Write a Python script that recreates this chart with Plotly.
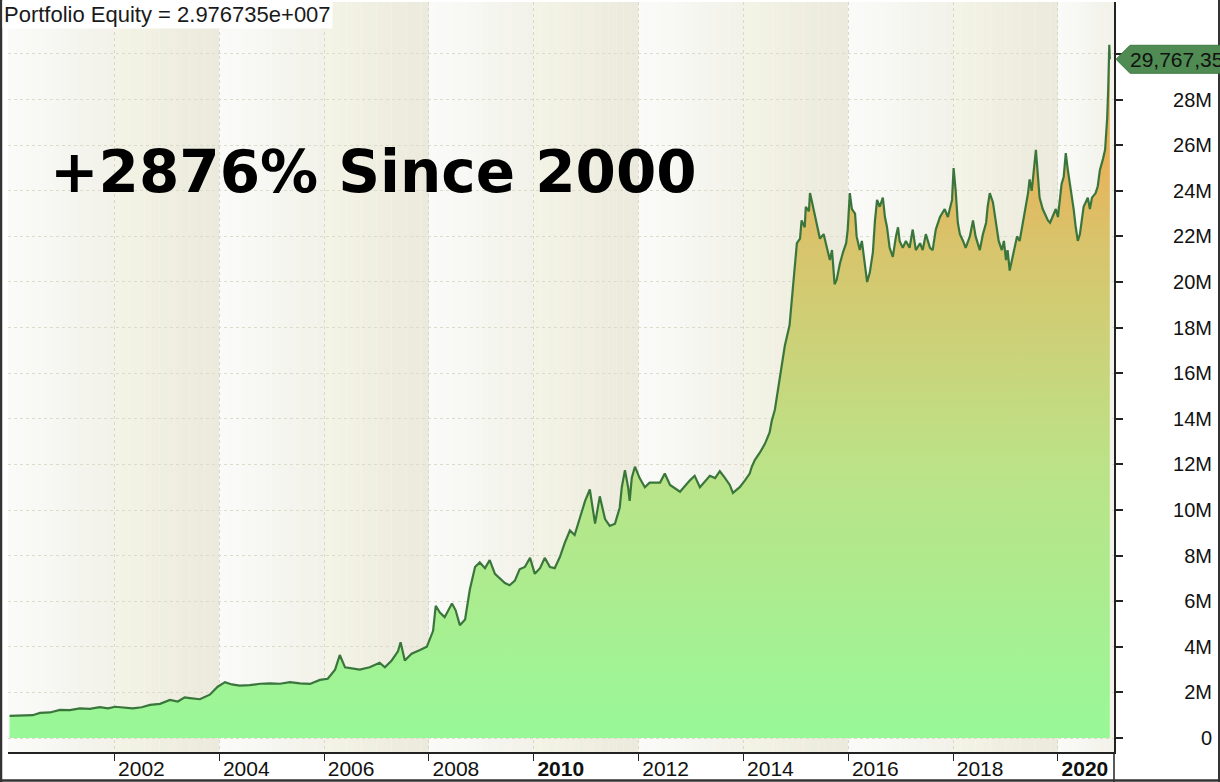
import plotly.graph_objects as go

# ---------------- data ----------------
years = [
    2000.00, 2000.20, 2000.44, 2000.58, 2000.77, 2000.96, 2001.15, 2001.34, 2001.53, 2001.72,
    2001.88, 2002.01, 2002.20, 2002.35, 2002.52, 2002.68, 2002.87, 2003.06, 2003.21, 2003.34,
    2003.44, 2003.63, 2003.82, 2003.97, 2004.11, 2004.24, 2004.39, 2004.58, 2004.78, 2004.97,
    2005.16, 2005.35, 2005.54, 2005.73, 2005.92, 2006.07, 2006.21, 2006.30, 2006.40, 2006.53,
    2006.68, 2006.87, 2007.06, 2007.16, 2007.29, 2007.41, 2007.46, 2007.54, 2007.67, 2007.83,
    2007.96, 2008.08, 2008.13, 2008.21, 2008.30, 2008.44, 2008.51, 2008.59, 2008.69, 2008.78,
    2008.88, 2008.97, 2009.07, 2009.16, 2009.26, 2009.45, 2009.54, 2009.64, 2009.73, 2009.83,
    2009.93, 2010.02, 2010.12, 2010.21, 2010.31, 2010.40, 2010.50, 2010.59, 2010.69, 2010.78,
    2010.88, 2010.98, 2011.07, 2011.17, 2011.26, 2011.36, 2011.45, 2011.55, 2011.64, 2011.68,
    2011.74, 2011.80, 2011.83, 2011.87, 2011.93, 2012.02, 2012.12, 2012.21, 2012.41, 2012.50,
    2012.60, 2012.79, 2012.98, 2013.07, 2013.17, 2013.36, 2013.46, 2013.55, 2013.65, 2013.74,
    2013.80, 2013.93, 2014.03, 2014.12, 2014.16, 2014.22, 2014.31, 2014.41, 2014.50, 2014.54,
    2014.60, 2014.69, 2014.79, 2014.88, 2014.94, 2014.98, 2015.02, 2015.08, 2015.11, 2015.17,
    2015.19, 2015.25, 2015.27, 2015.31, 2015.36, 2015.42, 2015.46, 2015.53, 2015.59, 2015.65,
    2015.69, 2015.74, 2015.78, 2015.84, 2015.90, 2015.96, 2015.99, 2016.03, 2016.07, 2016.13,
    2016.16, 2016.22, 2016.26, 2016.32, 2016.36, 2016.41, 2016.47, 2016.51, 2016.55, 2016.60,
    2016.66, 2016.70, 2016.74, 2016.79, 2016.85, 2016.91, 2016.95, 2016.98, 2017.04, 2017.10,
    2017.17, 2017.23, 2017.29, 2017.37, 2017.42, 2017.48, 2017.56, 2017.61, 2017.67, 2017.75,
    2017.84, 2017.90, 2017.98, 2018.01, 2018.05, 2018.09, 2018.13, 2018.19, 2018.24, 2018.32,
    2018.38, 2018.43, 2018.51, 2018.57, 2018.63, 2018.66, 2018.70, 2018.76, 2018.82, 2018.87,
    2018.93, 2018.97, 2019.01, 2019.04, 2019.08, 2019.12, 2019.16, 2019.22, 2019.27, 2019.33,
    2019.39, 2019.43, 2019.46, 2019.50, 2019.54, 2019.58, 2019.62, 2019.65, 2019.71, 2019.77,
    2019.81, 2019.85, 2019.90, 2019.96, 2020.00, 2020.04, 2020.07, 2020.11, 2020.15, 2020.19,
    2020.23, 2020.27, 2020.30, 2020.34, 2020.38, 2020.42, 2020.46, 2020.49, 2020.57, 2020.61,
    2020.65, 2020.72, 2020.76, 2020.80, 2020.86, 2020.90, 2020.92, 2020.94, 2020.96, 2020.97,
    2020.98, 2020.99,
]

equity_m = [
    0.97, 0.98, 1.00, 1.10, 1.12, 1.23, 1.22, 1.30, 1.28, 1.35,
    1.30, 1.37, 1.33, 1.30, 1.35, 1.45, 1.50, 1.67, 1.60, 1.78,
    1.75, 1.70, 1.90, 2.25, 2.45, 2.35, 2.30, 2.32, 2.38, 2.40,
    2.38, 2.45, 2.40, 2.37, 2.55, 2.60, 3.00, 3.64, 3.10, 3.05,
    3.00, 3.10, 3.30, 3.10, 3.40, 3.80, 4.20, 3.40, 3.70, 3.86,
    4.00, 4.70, 5.80, 5.50, 5.30, 5.90, 5.60, 4.95, 5.20, 6.50,
    7.50, 7.70, 7.45, 7.80, 7.20, 6.80, 6.70, 6.90, 7.40, 7.50,
    7.90, 7.20, 7.45, 7.90, 7.50, 7.45, 7.95, 8.55, 9.10, 8.90,
    9.70, 10.40, 10.90, 9.40, 10.60, 9.60, 9.30, 9.40, 10.10, 11.00,
    11.75, 11.00, 10.40, 11.40, 11.90, 11.40, 11.00, 11.20, 11.20, 11.60,
    11.10, 10.80, 11.30, 11.50, 11.00, 11.50, 11.40, 11.70, 11.40, 11.10,
    10.75, 11.00, 11.30, 11.60, 11.90, 12.20, 12.50, 12.90, 13.40, 13.90,
    14.40, 15.70, 17.20, 18.10, 19.60, 20.80, 21.70, 21.90, 22.70, 22.40,
    23.30, 23.10, 23.90, 23.50, 23.00, 22.30, 21.90, 22.10, 21.50, 20.96,
    21.40, 19.90, 20.10, 20.80, 21.30, 21.70, 22.30, 23.90, 23.20, 23.00,
    22.00, 21.40, 21.80, 20.80, 20.00, 20.40, 21.30, 22.70, 23.60, 23.30,
    23.70, 22.85, 22.40, 21.50, 21.10, 22.00, 22.40, 21.80, 21.50, 21.80,
    21.50, 22.30, 21.40, 21.70, 21.40, 22.10, 21.50, 21.40, 22.30, 22.85,
    23.20, 22.85, 23.60, 25.00, 24.00, 22.60, 22.10, 21.80, 21.50, 22.00,
    22.70, 22.00, 21.40, 22.10, 22.60, 23.30, 23.90, 23.50, 22.60, 21.80,
    21.40, 21.80, 20.96, 21.40, 20.50, 20.96, 21.40, 22.00, 21.80, 22.60,
    23.30, 23.90, 24.50, 24.00, 24.90, 25.80, 24.60, 23.70, 23.20, 22.85,
    22.70, 22.60, 22.85, 23.20, 22.85, 23.60, 24.30, 24.60, 25.65, 24.90,
    24.30, 23.70, 23.20, 22.40, 21.80, 22.10, 22.85, 23.30, 23.70, 23.20,
    23.70, 23.90, 24.20, 24.90, 25.40, 25.80, 26.50, 27.20, 28.50, 29.90,
    30.40, 29.767351,
]

tick_years = [2002, 2004, 2006, 2008, 2010, 2012, 2014, 2016, 2018, 2020]
tick_text = ["2002", "2004", "2006", "2008", "<b>2010</b>", "2012", "2014", "2016", "2018", "<b>2020</b>"]
y_ticks_m = [0, 2, 4, 6, 8, 10, 12, 14, 16, 18, 20, 22, 24, 26, 28, 30]
y_tick_text = ["0", "2M", "4M", "6M", "8M", "10M", "12M", "14M", "16M", "18M",
               "20M", "22M", "24M", "26M", "28M", "30M"]

title_text = "Portfolio Equity = 2.976735e+007"
headline = "+2876% Since 2000"
last_label = "29,767,351"

# ---------------- figure ----------------
equity = [v * 1e6 for v in equity_m]
y_tickvals = [v * 1e6 for v in y_ticks_m]

X_RANGE = [1999.97, 2021.07]
Y_RANGE = [-0.614e6, 32.28e6]

W, H = 1220, 782
ML, MR, MT, MB = 8, 8, 2, 30
PW, PH = W - ML - MR, H - MT - MB
PLOT_RIGHT_PX = 1114


def px_x(px):
    return (px - ML) / PW


def px_y(py):
    return 1 - (py - MT) / PH


def data_to_paper_y(v):
    return (v - Y_RANGE[0]) / (Y_RANGE[1] - Y_RANGE[0])


x_dom_right = px_x(PLOT_RIGHT_PX)

fig = go.Figure()

fig.add_trace(go.Scatter(
    x=years, y=equity,
    mode="lines",
    line=dict(color="#3A763C", width=2.2),
    fill="tozeroy",
    fillgradient=dict(
        type="vertical",
        start=0, stop=30e6,
        colorscale=[
            [0.0, "#98F898"],
            [0.40, "#BCE287"],
            [0.72, "#D8C46C"],
            [0.85, "#E8B25A"],
            [1.0, "#F0A84A"],
        ],
    ),
    hoverinfo="skip",
    showlegend=False,
))

# tiny invisible trace so the label axis (y2) is drawn
fig.add_trace(go.Scatter(
    x=[years[0]], y=[equity[0]], yaxis="y2", mode="markers",
    marker=dict(opacity=0), hoverinfo="skip", showlegend=False,
))

shapes = []


def hex_to_rgb(h):
    h = h.lstrip("#")
    return tuple(int(h[i:i + 2], 16) for i in (0, 2, 4))


# alternating two-year background bands with a horizontal gradient
light = (hex_to_rgb("#FAFAF8"), hex_to_rgb("#F2F2EA"))
dark = (hex_to_rgb("#F3F3E6"), hex_to_rgb("#EBEADC"))
N_STRIPS = 14
for k, y0 in enumerate(range(2000, 2022, 2)):
    c0, c1 = light if k % 2 == 0 else dark
    a = X_RANGE[0] if k == 0 else y0
    b = min(y0 + 2, X_RANGE[1])
    for s in range(N_STRIPS):
        t = s / (N_STRIPS - 1)
        col = tuple(round(c0[i] + (c1[i] - c0[i]) * t) for i in range(3))
        xa = a + (b - a) * s / N_STRIPS
        xb = a + (b - a) * (s + 1) / N_STRIPS
        shapes.append(dict(
            type="rect", xref="x", yref="paper",
            x0=xa, x1=xb + 0.003, y0=0, y1=1,
            fillcolor="rgb(%d,%d,%d)" % col, line=dict(width=0), layer="below",
        ))

# y-axis line continued down through the date strip
shapes.append(dict(type="line", xref="paper", yref="paper",
                   x0=x_dom_right, x1=x_dom_right, y0=0, y1=px_y(H + 2),
                   line=dict(color="#222222", width=1.5)))
# outer frame (left, bottom, right)
shapes.append(dict(type="line", xref="paper", yref="paper",
                   x0=px_x(1), x1=px_x(1), y0=px_y(0), y1=px_y(H),
                   line=dict(color="#333333", width=2.5)))
shapes.append(dict(type="line", xref="paper", yref="paper",
                   x0=px_x(0), x1=px_x(W), y0=px_y(H - 1.5), y1=px_y(H - 1.5),
                   line=dict(color="#333333", width=2.5)))
shapes.append(dict(type="line", xref="paper", yref="paper",
                   x0=px_x(W - 1), x1=px_x(W - 1), y0=px_y(0), y1=px_y(H),
                   line=dict(color="#333333", width=2)))

# last-value callout
v_last = equity[-1]
yc = data_to_paper_y(v_last)
half = 14 / PH
tip = px_x(1116)
body = px_x(1130)
far = px_x(W + 20)
shapes.append(dict(
    type="path", xref="paper", yref="paper",
    path="M %f,%f L %f,%f L %f,%f L %f,%f L %f,%f Z" % (
        tip, yc, body, yc + half, far, yc + half, far, yc - half, body, yc - half),
    fillcolor="#4F8B52", line=dict(color="#3E7A40", width=1), layer="above",
))

annotations = [
    dict(text=title_text, xref="paper", yref="paper",
         x=px_x(2), y=px_y(0), xanchor="left", yanchor="top",
         showarrow=False, bgcolor="white", borderpad=1,
         font=dict(family="Liberation Sans, Arial", size=22, color="#1a1a1a")),
    dict(text="<b>" + headline + "</b>", xref="paper", yref="paper",
         x=px_x(48), y=px_y(172), xanchor="left", yanchor="middle",
         showarrow=False,
         font=dict(family="DejaVu Sans", size=58, color="black")),
    dict(text=last_label, xref="paper", yref="paper",
         x=px_x(1128), y=yc, xanchor="left", yanchor="middle",
         showarrow=False,
         font=dict(family="Liberation Sans, Arial", size=21, color="#111111")),
]

fig.update_layout(
    width=W, height=H,
    autosize=False,
    margin=dict(l=ML, r=MR, t=MT, b=MB, pad=0, autoexpand=False),
    paper_bgcolor="white",
    plot_bgcolor="white",
    showlegend=False,
    shapes=shapes,
    annotations=annotations,
    xaxis=dict(
        domain=[0, x_dom_right],
        range=X_RANGE,
        automargin=False,
        tickvals=tick_years, ticktext=tick_text,
        ticks="outside", ticklen=7, tickwidth=1.2, tickcolor="#222222",
        ticklabelshift=27, ticklabelstandoff=-10,
        showline=True, linecolor="#222222", linewidth=2,
        showgrid=True, gridcolor="#D9D9C6", griddash="dot", gridwidth=1,
        zeroline=False,
        tickfont=dict(family="Liberation Sans, Arial", size=21, color="#111111"),
        fixedrange=True,
    ),
    yaxis=dict(
        range=Y_RANGE,
        side="right",
        automargin=False,
        tickvals=y_tickvals,
        showticklabels=False,
        ticks="outside", ticklen=7, tickwidth=1.5, tickcolor="#222222",
        showline=True, linecolor="#222222", linewidth=1.5,
        showgrid=True, gridcolor="#DCDCCB", griddash="dot", gridwidth=1,
        zeroline=False,
        fixedrange=True,
    ),
    yaxis2=dict(
        range=Y_RANGE,
        overlaying="y", anchor="free", position=1.0, side="left",
        automargin=False,
        tickvals=y_tickvals, ticktext=y_tick_text,
        ticks="", showline=False, showgrid=False, zeroline=False,
        tickfont=dict(family="Liberation Sans, Arial", size=20, color="#111111"),
        fixedrange=True,
    ),
)

fig.write_html(
    "out.html",
    config=dict(displayModeBar=False),
    post_script="document.body.style.margin='0';document.body.style.overflow='hidden';",
)
